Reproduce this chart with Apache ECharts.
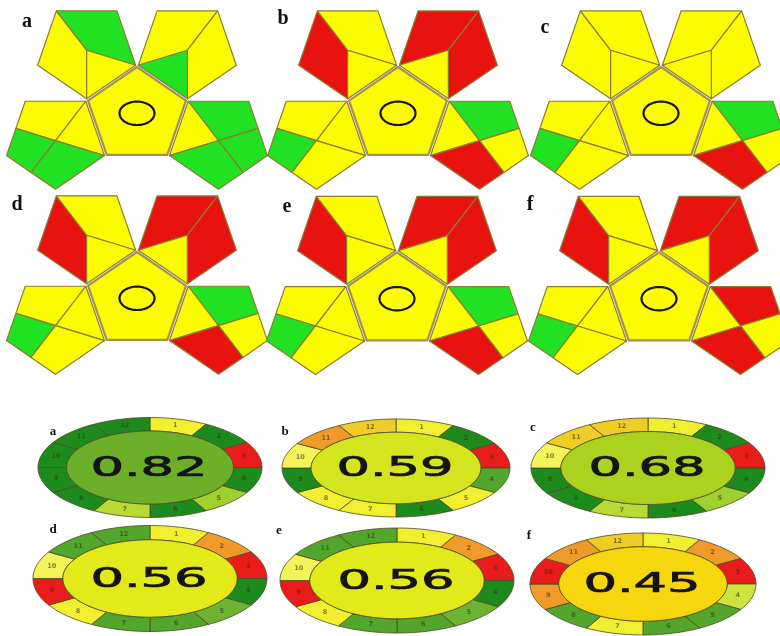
<!DOCTYPE html>
<html><head><meta charset="utf-8">
<script src="https://cdn.jsdelivr.net/npm/echarts@6/dist/echarts.min.js"></script>
<style>html,body{margin:0;padding:0;background:#fff}#chart{width:780px;height:636px}</style>
</head><body><div id="chart"></div>
<script>
// ---------- DATA ----------
// GAPI region codes, order:
// TL-left, TL-top, TL-inner, TR-top, TR-right, TR-inner,
// BL-top, BL-tri, BL-corner, BL-bottom, BR-top, BR-tri, BR-corner, BR-bottom, centre
const gapiLabels = ['a', 'b', 'c', 'd', 'e', 'f'];
const gapiA = ['Y','G','Y', 'Y','Y','G', 'Y','Y','G','G', 'G','Y','G','G', 'Y'];
const gapiB = ['R','Y','Y', 'R','R','Y', 'Y','Y','G','Y', 'G','Y','Y','R', 'Y'];
const gapiC = ['Y','Y','Y', 'Y','Y','Y', 'Y','Y','G','Y', 'G','Y','Y','R', 'Y'];
const gapiD = ['R','Y','Y', 'R','R','Y', 'Y','Y','G','Y', 'G','Y','Y','R', 'Y'];
const gapiE = ['R','Y','Y', 'R','R','Y', 'Y','Y','G','Y', 'G','Y','Y','R', 'Y'];
const gapiF = ['R','Y','Y', 'R','R','Y', 'Y','Y','G','Y', 'R','Y','Y','R', 'Y'];
const gapiPanels = [gapiA, gapiB, gapiC, gapiD, gapiE, gapiF];

// AGREE: scores and segment codes for criteria 1..12
const agreeLabels = ['a', 'b', 'c', 'd', 'e', 'f'];
const agreeScores = [0.82, 0.59, 0.68, 0.56, 0.56, 0.45];
const agreeNumbers = ['1','2','3','4','5','6','7','8','9','10','11','12'];
const agreeA = ['Y','DG','R','DG','LG','DG','LY','DG','DG','DG','DG','DG'];
const agreeB = ['Y','DG','R','MG','Y','DG','Y','Y','DG','LYW','O','GO'];
const agreeC = ['Y','DG','R','DG','LG','DG','LY','DG','DG','LYW','GO','GO'];
const agreeD = ['Y','O','R','DG','MG2','MG','MG','Y','R','LYW','MG','MG'];
const agreeE = ['Y','O','R','DG','MG2','MG','MG','Y','R','LYW','MG','MG'];
const agreeF = ['Y','O','R','YG','MG','MG','Y','MG','O','R','O','GO'];
const agreePanels = [agreeA, agreeB, agreeC, agreeD, agreeE, agreeF];

// ---------- STYLE / LAYOUT ----------
const gapiColor = { Y: '#fcfc00', G: '#22e022', R: '#e8120e' };
const agreeColor = { DG: '#1d8a1d', MG: '#52a62c', MG2: '#6cb332', LG: '#9fcf30', LY: '#b8da34',
  YG: '#cce43e', Y: '#f2ee30', LYW: '#f5f35a', GO: '#f0cc26', O: '#f09a2a', R: '#e81c1a' };
const scoreStops = [[0.45, [246, 214, 12]], [0.56, [226, 234, 26]], [0.59, [212, 228, 30]], [0.68, [170, 210, 30]], [0.82, [108, 176, 42]]];

const gapiLayout = [[137, 115.6], [398, 115.6], [661, 115.6], [137, 300.6], [397, 301], [659, 301]];
const gapiLabelPos = [[27, 22], [283, 19], [545, 28], [17, 205], [287, 207], [530, 205]];
const GAPI_R = 48.6, GAPI_SX = 1.06, GAP = 0.045;

const agreeLayout = [
  { cx: 150, cy: 467.5, rx: 112, ry: 50 },
  { cx: 396, cy: 468, rx: 114, ry: 49 },
  { cx: 648, cy: 468, rx: 117, ry: 50 },
  { cx: 150, cy: 578.5, rx: 117, ry: 53 },
  { cx: 397, cy: 580.5, rx: 117, ry: 52.5 },
  { cx: 643, cy: 584, rx: 113, ry: 51 }
];
const agreeLabelPos = [[53, 432], [285, 432], [533, 428], [53, 530], [279, 531], [529, 536]];
const INNER_X = 0.745, INNER_Y = 0.73;

// ---------- GEOMETRY ----------
const rad = a => a * Math.PI / 180;
const unit = a => [Math.cos(rad(a)), Math.sin(rad(a))];
const add = (p, q) => [p[0] + q[0], p[1] + q[1]];
const mid = (p, q) => [(p[0] + q[0]) / 2, (p[1] + q[1]) / 2];
function gapiTemplate() {
  const d = 2 * Math.cos(Math.PI / 5) + GAP;
  const O = dir => [d * Math.cos(rad(dir)), d * Math.sin(rad(dir))];
  const V = (o, a) => add(o, unit(a));
  const tl = O(126), tr = O(54), bl = O(198), br = O(342);
  return [
    [V(tl, 270), V(tl, 198), V(tl, 126), tl],
    [V(tl, 126), V(tl, 54), V(tl, 342), tl],
    [V(tl, 342), V(tl, 270), tl],
    [V(tr, 54), V(tr, 126), V(tr, 198), tr],
    [V(tr, 270), V(tr, 342), V(tr, 54), tr],
    [V(tr, 198), V(tr, 270), tr],
    [V(bl, 126), V(bl, 54), bl, mid(V(bl, 126), V(bl, 198))],
    [V(bl, 54), V(bl, 342), bl],
    [mid(V(bl, 126), V(bl, 198)), V(bl, 198), mid(V(bl, 198), V(bl, 270)), bl],
    [mid(V(bl, 198), V(bl, 270)), V(bl, 270), V(bl, 342), bl],
    [V(br, 126), V(br, 54), mid(V(br, 54), V(br, 342)), br],
    [V(br, 126), V(br, 198), br],
    [mid(V(br, 54), V(br, 342)), V(br, 342), mid(V(br, 342), V(br, 270)), br],
    [mid(V(br, 342), V(br, 270)), V(br, 270), V(br, 198), br],
    [unit(90), unit(162), unit(234), unit(306), unit(18)]
  ];
}
const TEMPLATE = gapiTemplate();

function scoreColor(s) {
  let a = scoreStops[0], b = scoreStops[scoreStops.length - 1];
  for (let i = 0; i < scoreStops.length - 1; i++) {
    if (s >= scoreStops[i][0] && s <= scoreStops[i + 1][0]) { a = scoreStops[i]; b = scoreStops[i + 1]; break; }
  }
  const t = b[0] === a[0] ? 0 : (s - a[0]) / (b[0] - a[0]);
  const c = a[1].map((v, i) => Math.round(v + (b[1][i] - v) * t));
  return 'rgb(' + c.join(',') + ')';
}

// ---------- SERIES DATA ----------
const gapiData = [];
gapiPanels.forEach((codes, p) => codes.forEach((c, r) => gapiData.push([p, r])));
const gapiMarkData = gapiLabels.map((l, p) => [p, 0]);
const agreeData = [];
agreePanels.forEach((codes, p) => codes.forEach((c, k) => agreeData.push([p, k])));
const agreeCenterData = agreeScores.map((s, p) => [p, s]);

function renderGapi(params, api) {
  const p = api.value(0), r = api.value(1);
  const [cx, cy] = gapiLayout[p];
  const pts = TEMPLATE[r].map(u => api.coord([cx + u[0] * GAPI_R * GAPI_SX, cy - u[1] * GAPI_R]));
  const isCentre = r === 14;
  return {
    type: 'polygon', shape: { points: pts },
    style: { fill: gapiColor[gapiPanels[p][r]], stroke: isCentre ? '#a39250' : '#8a7c34', lineWidth: isCentre ? 2.2 : 1.2, lineJoin: 'round' }
  };
}

function ellipsePts(api, cx, cy, rx, ry, t0, t1, n) {
  const out = [];
  for (let i = 0; i <= n; i++) {
    const t = rad(t0 + (t1 - t0) * i / n);
    out.push(api.coord([cx + rx * Math.sin(t), cy - ry * Math.cos(t)]));
  }
  return out;
}

function renderGapiMark(params, api) {
  const p = api.value(0);
  const [cx, cy] = gapiLayout[p];
  const lp = api.coord(gapiLabelPos[p]);
  return {
    type: 'group', children: [
      { type: 'polygon', shape: { points: ellipsePts(api, cx, cy - 2.3, 17.5, 11.7, 0, 360, 72) },
        style: { fill: 'none', stroke: '#151515', lineWidth: 2.2 } },
      { type: 'text', x: lp[0], y: lp[1],
        style: { text: gapiLabels[p], fill: '#111', fontSize: 20, fontWeight: 'bold', fontFamily: 'Liberation Serif', align: 'center', verticalAlign: 'middle' } }
    ]
  };
}

function renderAgree(params, api) {
  const p = api.value(0), k = api.value(1);
  const L = agreeLayout[p];
  const t0 = k * 30, t1 = (k + 1) * 30;
  const outer = ellipsePts(api, L.cx, L.cy, L.rx, L.ry, t0, t1, 12);
  const inner = ellipsePts(api, L.cx, L.cy, L.rx * INNER_X, L.ry * INNER_Y, t1, t0, 12);
  const tm = rad((k + 0.5) * 30), f = (1 + (INNER_X + INNER_Y) / 2) / 2;
  const np = api.coord([L.cx + L.rx * f * Math.sin(tm), L.cy - L.ry * f * Math.cos(tm)]);
  return {
    type: 'group', children: [
      { type: 'polygon', shape: { points: outer.concat(inner) },
        style: { fill: agreeColor[agreePanels[p][k]], stroke: '#4b4a24', lineWidth: 0.8 } },
      { type: 'text', x: np[0], y: np[1],
        style: { text: agreeNumbers[k], fill: 'rgba(50,50,20,0.6)', fontSize: 6.5, fontWeight: 'bold', fontFamily: 'DejaVu Sans', align: 'center', verticalAlign: 'middle' } }
    ]
  };
}

function renderAgreeCenter(params, api) {
  const p = api.value(0), s = api.value(1);
  const L = agreeLayout[p];
  const c = api.coord([L.cx, L.cy]);
  const lp = api.coord(agreeLabelPos[p]);
  return {
    type: 'group', children: [
      { type: 'polygon', shape: { points: ellipsePts(api, L.cx, L.cy, L.rx * INNER_X, L.ry * INNER_Y, 0, 360, 90) },
        style: { fill: scoreColor(s), stroke: '#4b4a24', lineWidth: 0.8 } },
      { type: 'text', x: c[0] - 1, y: c[1] + 1, scaleX: 1.95, scaleY: 1,
        style: { text: s.toFixed(2), fill: '#141414', stroke: '#141414', lineWidth: 0.7, fontSize: 27, fontFamily: 'DejaVu Sans', align: 'center', verticalAlign: 'middle' } },
      { type: 'text', x: lp[0], y: lp[1],
        style: { text: agreeLabels[p], fill: '#111', fontSize: 13, fontWeight: 'bold', fontFamily: 'Liberation Serif', align: 'center', verticalAlign: 'middle' } }
    ]
  };
}

const chart = echarts.init(document.getElementById('chart'), null, { renderer: 'canvas' });
chart.setOption({
  backgroundColor: '#ffffff',
  animation: false,
  grid: { left: 0, right: 0, top: 0, bottom: 0 },
  xAxis: { type: 'value', min: 0, max: 780, show: false },
  yAxis: { type: 'value', min: 0, max: 636, inverse: true, show: false },
  series: [
    { type: 'custom', name: 'GAPI', data: gapiData, renderItem: renderGapi, clip: false, silent: true, encode: { x: -1, y: -1 } },
    { type: 'custom', name: 'GAPI marks', data: gapiMarkData, renderItem: renderGapiMark, clip: false, silent: true, encode: { x: -1, y: -1 } },
    { type: 'custom', name: 'AGREE', data: agreeData, renderItem: renderAgree, clip: false, silent: true, encode: { x: -1, y: -1 } },
    { type: 'custom', name: 'AGREE score', data: agreeCenterData, renderItem: renderAgreeCenter, clip: false, silent: true, encode: { x: -1, y: -1 } }
  ]
});
</script>
</body></html>
